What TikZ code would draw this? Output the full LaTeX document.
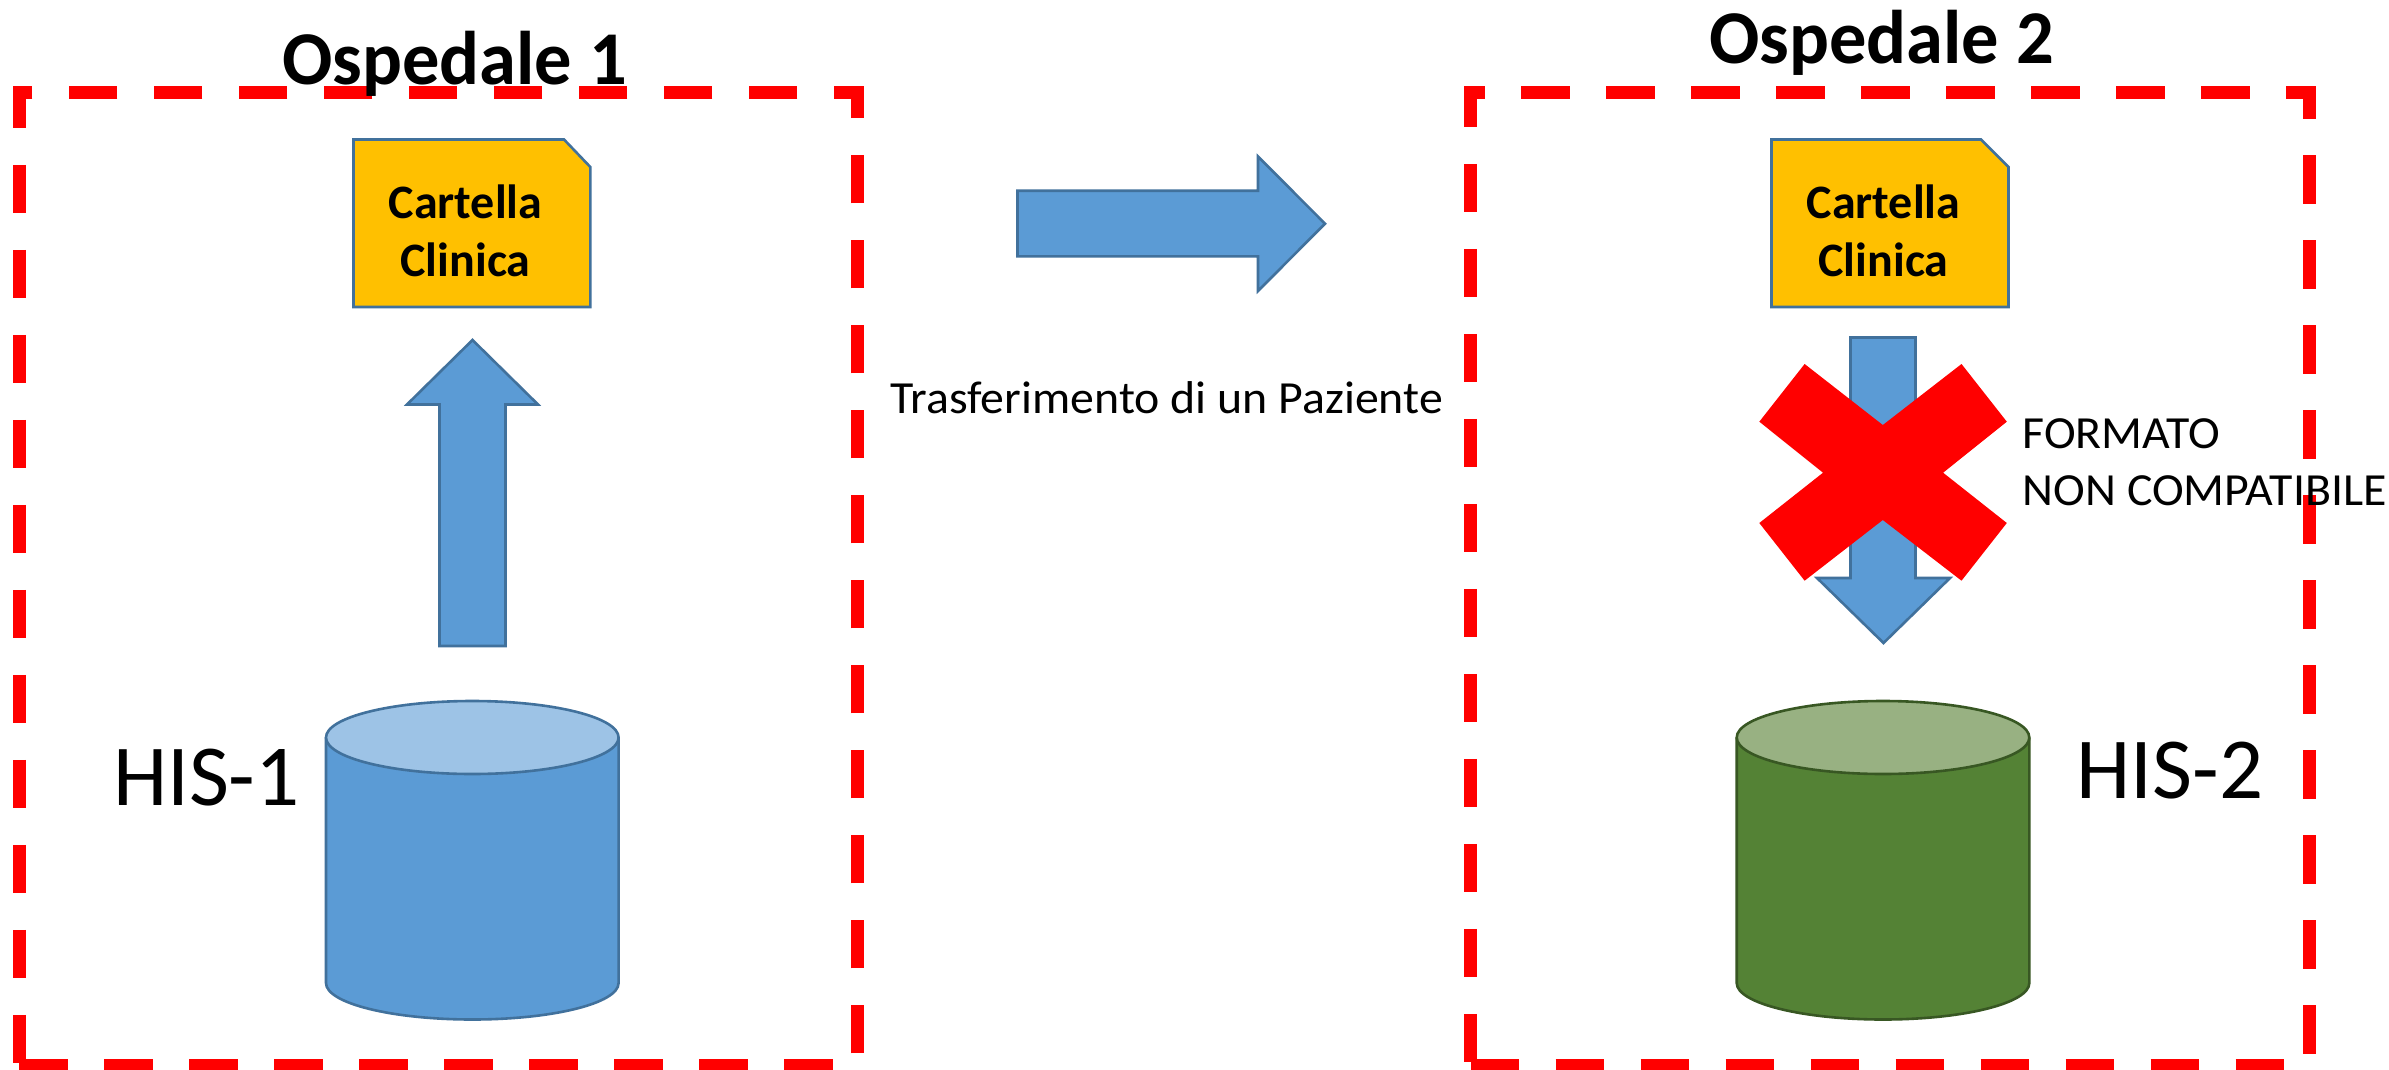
\documentclass[tikz,border=0pt]{standalone}
\usepackage{fontspec}
\setmainfont{Carlito}
\definecolor{blueF}{HTML}{5B9BD5}
\definecolor{blueT}{HTML}{9DC3E6}
\definecolor{blueL}{HTML}{41719C}
\definecolor{greenF}{HTML}{548235}
\definecolor{greenT}{HTML}{98B182}
\definecolor{greenL}{HTML}{385723}
\definecolor{docF}{HTML}{FFC000}
\tikzset{
  x=1pt,y=-1pt,
  zone/.style={draw=red,line width=13pt,miter limit=10,dash pattern=on 48.5pt off 36.5pt},
  shapeline/.style={line width=2.6pt,draw=blueL,line join=miter},
  fatarrow/.style={shapeline,fill=blueF},
  docbox/.style={shapeline,fill=docF},
  lbl/.style={inner sep=0pt,anchor=base west,xscale=1.04,font=\fontsize{46}{46}\selectfont},
  title/.style={inner sep=0pt,anchor=base west,xscale=0.98,font=\bfseries\fontsize{76}{76}\selectfont},
  big/.style={inner sep=0pt,anchor=base west,font=\fontsize{87}{87}\selectfont},
  doctext/.style={inner sep=0pt,anchor=base,font=\bfseries\fontsize{48}{48}\selectfont},
}
\newcommand{\cyl}[5]{% centre x, fill, top, line, name
  \fill[#2] (#1-146.3,737.5) -- (#1-146.3,983) arc[start angle=180,end angle=360,x radius=146.3,y radius=-36.5] -- (#1+146.3,737.5) -- cycle;
  \draw[line width=2.6pt,draw=#4] (#1-146.3,737.5) -- (#1-146.3,983) arc[start angle=180,end angle=360,x radius=146.3,y radius=-36.5] -- (#1+146.3,737.5);
  \draw[line width=2.6pt,draw=#4,fill=#3] (#1,737.5) ellipse[x radius=146.3,y radius=36.5];
  \coordinate (#5) at (#1,701);
}
\begin{document}
\begin{tikzpicture}
\useasboundingbox (0,0) rectangle (2389,1070);
\fill[white] (0,0) rectangle (2389,1070);
% zones
\draw[zone] (19,1065.25) -- (857,1065.25) -- (857,93) -- (19,93) -- cycle;
\draw[zone] (1470.5,1065.25) -- (2309,1065.25) -- (2309,93) -- (1470.5,93) -- cycle;
% documents
\draw[docbox] (353.5,139.5) -- (564,139.5) -- (590.3,167) -- (590.3,307) -- (353.5,307) -- cycle;
\draw[docbox] (1771.5,139.5) -- (1981,139.5) -- (2008.5,167) -- (2008.5,307) -- (1771.5,307) -- cycle;
\node[doctext] (d1a) at (465.5,218) {Cartella};
\node[doctext] (d1b) at (465.5,276) {Clinica};
\node[doctext] (d2a) at (1883.5,218) {Cartella};
\node[doctext] (d2b) at (1883.5,276) {Clinica};
% arrows
\draw[fatarrow] (472.5,340) -- (538,404.5) -- (505.5,404.5) -- (505.5,646) -- (439.5,646) -- (439.5,404.5) -- (407,404.5) -- cycle;
\draw[fatarrow] (1325,223.7) -- (1258,156.5) -- (1258,190.7) -- (1017.5,190.7) -- (1017.5,256.3) -- (1258,256.3) -- (1258,291) -- cycle;
\draw[fatarrow] (1883.5,643) -- (1950,578) -- (1915.5,578) -- (1915.5,337.5) -- (1850.5,337.5) -- (1850.5,578) -- (1817,578) -- cycle;
% cross
\fill[red] (1804.6,364) -- (1882.8,425) -- (1961.5,364) -- (2006.8,421.7) -- (1943.1,472.7) -- (2006.8,523) -- (1961.5,580.7) -- (1882.8,520) -- (1804.6,580.7) -- (1759.3,523) -- (1823,472.7) -- (1759.3,421.7) -- cycle;
% cylinders
\cyl{472.3}{blueF}{blueT}{blueL}{c1}
\cyl{1883}{greenF}{greenT}{greenL}{c2}
% texts
\node[title] (t1) at (282,85) {Ospedale 1};
\node[title] (t2) at (1709,63.5) {Ospedale 2};
\node[big] (h1) at (113,805) {HIS-1};
\node[big] (h2) at (2076.5,798.5) {HIS-2};
\node[lbl] (tr) at (890,413) {Trasferimento di un Paziente};
\node[lbl] (f1) at (2022.5,448) {FORMATO};
\node[lbl] (f2) at (2022.5,505.7) {NON COMPATIBILE};
\end{tikzpicture}
\end{document}
